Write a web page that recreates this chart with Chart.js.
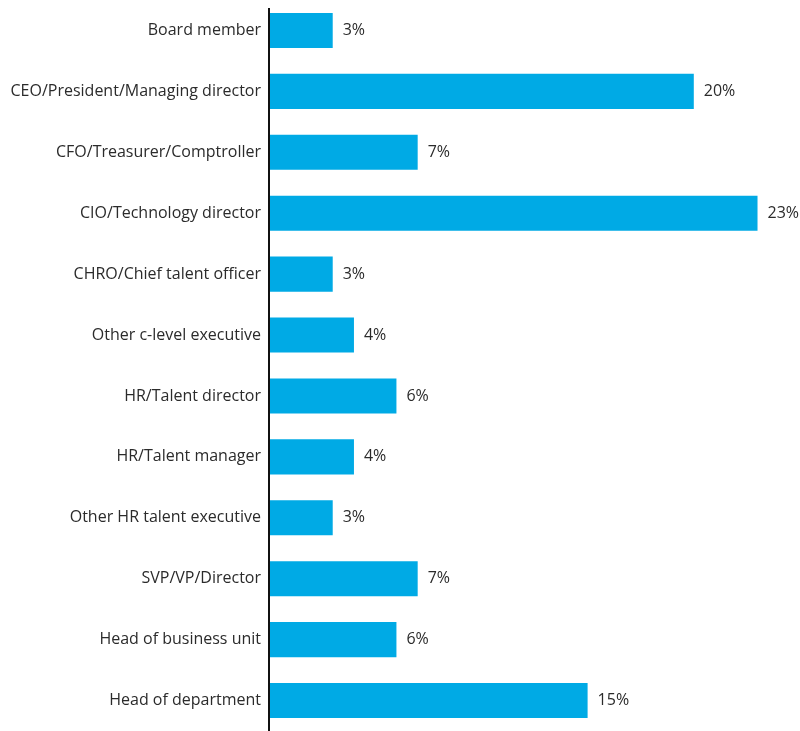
<!DOCTYPE html>
<html>
<head>
<meta charset="utf-8">
<script src="https://cdn.jsdelivr.net/npm/chart.js@4/dist/chart.umd.min.js"></script>
<style>
  html, body { margin: 0; padding: 0; background: #fff; }
  #wrap { width: 800px; height: 731px; position: relative; }
</style>
</head>
<body>
<div id="wrap"><canvas id="chart"></canvas></div>
<script>
const roles = [
  "Board member",
  "CEO/President/Managing director",
  "CFO/Treasurer/Comptroller",
  "CIO/Technology director",
  "CHRO/Chief talent officer",
  "Other c-level executive",
  "HR/Talent director",
  "HR/Talent manager",
  "Other HR talent executive",
  "SVP/VP/Director",
  "Head of business unit",
  "Head of department"
];
const shares = [3, 20, 7, 23, 3, 4, 6, 4, 3, 7, 6, 15];

const FONT = "'Open Sans', 'Noto Sans', sans-serif";

// Vertical baseline at zero, starting a little below the top edge
const baseline = {
  id: "baseline",
  afterDatasetsDraw(chart) {
    const { ctx, chartArea } = chart;
    const x = chart.scales.x.getPixelForValue(0);
    ctx.save();
    ctx.strokeStyle = "#111111";
    ctx.lineWidth = 2;
    ctx.beginPath();
    ctx.moveTo(x, chartArea.top + 8);
    ctx.lineTo(x, chartArea.bottom);
    ctx.stroke();
    ctx.restore();
  }
};

// Writes each bar's percentage just past its end
const valueLabels = {
  id: "valueLabels",
  afterDatasetsDraw(chart) {
    const { ctx } = chart;
    const meta = chart.getDatasetMeta(0);
    ctx.save();
    ctx.font = "16px " + FONT;
    ctx.fillStyle = "#2b2b2b";
    ctx.textAlign = "left";
    ctx.textBaseline = "middle";
    meta.data.forEach((bar, i) => {
      ctx.fillText(shares[i] + "%", bar.x + 10, bar.y);
    });
    ctx.restore();
  }
};

new Chart(document.getElementById("chart"), {
  type: "bar",
  data: {
    labels: roles,
    datasets: [{
      data: shares,
      backgroundColor: "#00AAE5",
      borderWidth: 0,
      barPercentage: 0.575,
      categoryPercentage: 1.0
    }]
  },
  options: {
    indexAxis: "y",
    responsive: true,
    maintainAspectRatio: false,
    animation: false,
    layout: { padding: 0 },
    plugins: {
      legend: { display: false },
      tooltip: { enabled: false }
    },
    scales: {
      x: {
        display: false,
        min: 0,
        max: 25
      },
      y: {
        grid: { display: false, drawTicks: false },
        border: { display: false },
        ticks: {
          padding: 8,
          color: "#2b2b2b",
          font: { family: FONT, size: 16 }
        },
        afterFit(scale) {
          // fixed label column; let the bands run to the canvas edges
          scale.width = 269;
          scale.paddingTop = 0;
          scale.paddingBottom = 0;
        }
      }
    }
  },
  plugins: [baseline, valueLabels]
});
</script>
</body>
</html>
